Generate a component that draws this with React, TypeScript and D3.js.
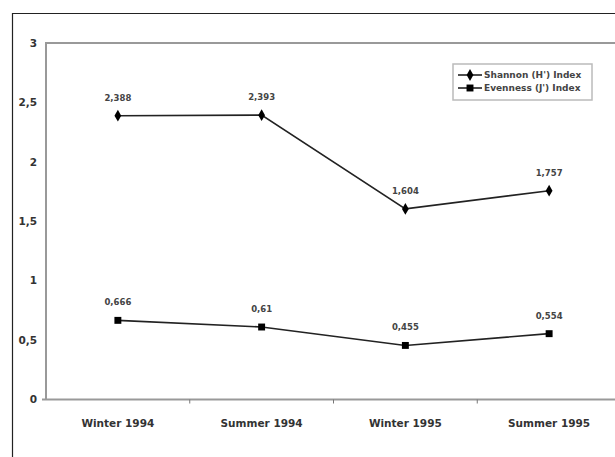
import React, { useEffect, useRef } from 'react';
import * as d3 from 'd3';

const seasons: string[] = ['Winter 1994', 'Summer 1994', 'Winter 1995', 'Summer 1995'];
const shannonValues: number[] = [2.388, 2.393, 1.604, 1.757];
const shannonLabels: string[] = ['2,388', '2,393', '1,604', '1,757'];
const evennessValues: number[] = [0.666, 0.61, 0.455, 0.554];
const evennessLabels: string[] = ['0,666', '0,61', '0,455', '0,554'];
const yTicks: number[] = [0, 0.5, 1, 1.5, 2, 2.5, 3];
const yTickLabels: string[] = ['0', '0,5', '1', '1,5', '2', '2,5', '3'];
const legendNames: string[] = ["Shannon (H') Index", "Evenness (J') Index"];

const FONT = '"DejaVu Sans", sans-serif';

const App: React.FC = () => {
  const svgRef = useRef<SVGSVGElement | null>(null);

  useEffect(() => {
    const width = 615;
    const height = 457;
    // plot area runs past the right edge, like the cropped original
    const plot = { left: 46, top: 43, right: 621, bottom: 399.5 };

    const svg = d3.select(svgRef.current);
    svg.selectAll('*').remove();
    svg.attr('width', width).attr('height', height);

    svg.append('rect').attr('width', width).attr('height', height).attr('fill', '#fff');

    // outer frame (only top and left visible)
    svg
      .append('path')
      .attr('d', `M12.5,${height}V13.5H${width}`)
      .attr('fill', 'none')
      .attr('stroke', '#222')
      .attr('stroke-width', 1.2);

    const x = d3.scaleBand<string>().domain(seasons).range([plot.left, plot.right]);
    const y = d3.scaleLinear().domain([0, 3]).range([plot.bottom, plot.top]);

    // plot frame
    svg
      .append('path')
      .attr('d', `M${plot.left},${plot.bottom}V${plot.top}H${width}`)
      .attr('fill', 'none')
      .attr('stroke', '#999')
      .attr('stroke-width', 2);

    // x axis
    svg
      .append('line')
      .attr('x1', plot.left - 4)
      .attr('x2', width)
      .attr('y1', plot.bottom)
      .attr('y2', plot.bottom)
      .attr('stroke', '#999')
      .attr('stroke-width', 2);

    seasons.slice(1).forEach((s) => {
      svg
        .append('line')
        .attr('x1', x(s)!)
        .attr('x2', x(s)!)
        .attr('y1', plot.bottom)
        .attr('y2', plot.bottom + 4)
        .attr('stroke', '#777')
        .attr('stroke-width', 1);
    });

    svg
      .append('g')
      .selectAll('text')
      .data(seasons)
      .join('text')
      .attr('x', (d) => x(d)! + x.bandwidth() / 2)
      .attr('y', 427)
      .attr('text-anchor', 'middle')
      .style('font', `bold 10.5px ${FONT}`)
      .attr('fill', '#333')
      .text((d) => d);

    // y labels
    svg
      .append('g')
      .selectAll('text')
      .data(yTicks)
      .join('text')
      .attr('x', 37)
      .attr('y', (d) => y(d))
      .attr('dy', '0.35em')
      .attr('text-anchor', 'end')
      .style('font', `bold 10.5px ${FONT}`)
      .attr('fill', '#333')
      .text((d, i) => yTickLabels[i]);

    const cx = (s: string) => x(s)! + x.bandwidth() / 2;
    const line = d3
      .line<number>()
      .x((d, i) => cx(seasons[i]))
      .y((d) => y(d));

    const series = [
      { values: shannonValues, labels: shannonLabels, marker: d3.symbolDiamond, size: 40 },
      { values: evennessValues, labels: evennessLabels, marker: d3.symbolSquare, size: 48 },
    ];

    series.forEach((sr) => {
      svg
        .append('path')
        .attr('d', line(sr.values))
        .attr('fill', 'none')
        .attr('stroke', '#222')
        .attr('stroke-width', 1.6);

      svg
        .append('g')
        .selectAll('path')
        .data(sr.values)
        .join('path')
        .attr('transform', (d, i) => `translate(${cx(seasons[i])},${y(d)})`)
        .attr('d', d3.symbol().type(sr.marker).size(sr.size)())
        .attr('fill', '#000');

      svg
        .append('g')
        .selectAll('text')
        .data(sr.values)
        .join('text')
        .attr('x', (d, i) => cx(seasons[i]))
        .attr('y', (d) => y(d) - 15)
        .attr('text-anchor', 'middle')
        .style('font', `bold 8.5px ${FONT}`)
        .attr('fill', '#444')
        .text((d, i) => sr.labels[i]);
    });

    // legend
    const lg = svg.append('g').attr('transform', 'translate(453,64)');
    lg.append('rect')
      .attr('width', 139)
      .attr('height', 36)
      .attr('fill', '#fff')
      .attr('stroke', '#bbb')
      .attr('stroke-width', 1.5);

    series.forEach((sr, i) => {
      const row = lg.append('g').attr('transform', `translate(0,${11 + i * 13})`);
      row.append('line').attr('x1', 5).attr('x2', 29).attr('stroke', '#222').attr('stroke-width', 1.6);
      row.append('path').attr('transform', 'translate(17,0)').attr('d', d3.symbol().type(sr.marker).size(sr.size)()).attr('fill', '#000');
      row
        .append('text')
        .attr('x', 31)
        .attr('dy', '0.35em')
        .style('font', `bold 9px ${FONT}`)
        .attr('fill', '#444')
        .text(legendNames[i]);
    });
  }, []);

  return <svg ref={svgRef} style={{ position: 'absolute', left: 0, top: 0 }} />;
};

export default App;
